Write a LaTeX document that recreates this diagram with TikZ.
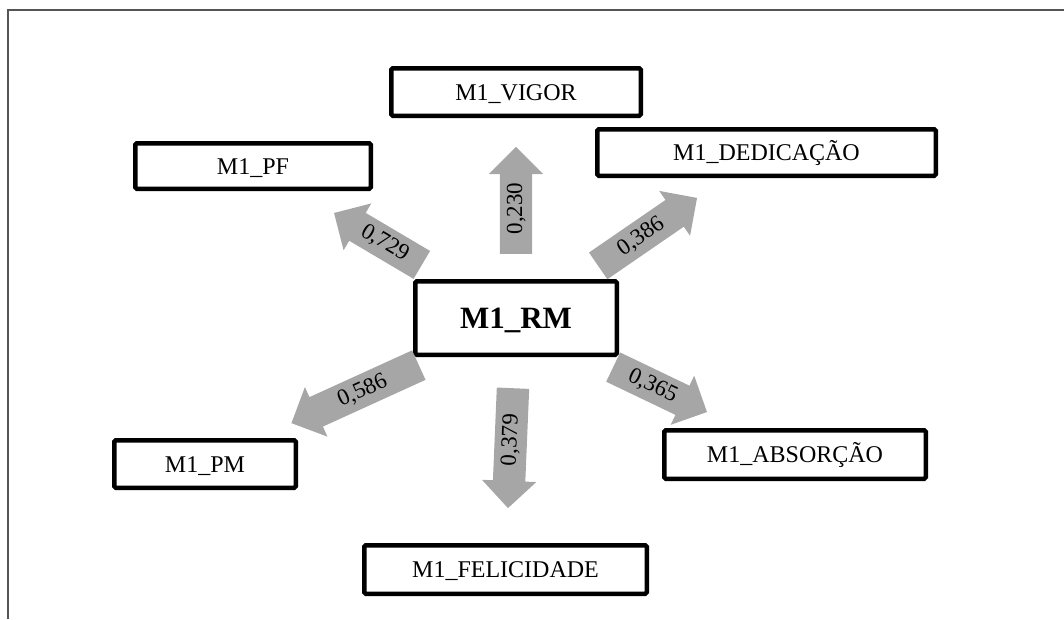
\documentclass[tikz,border=0pt]{standalone}
\usepackage{fontspec}
\setmainfont{Liberation Serif}
\usetikzlibrary{shapes.arrows}
\definecolor{arrowgray}{RGB}{166,166,166}
\definecolor{framegray}{RGB}{85,85,85}

\begin{document}
\begin{tikzpicture}[
  x=1pt, y=-1pt,
  box/.style={draw, line width=4.5pt, rounded corners=1.5pt, align=center,
              font=\fontsize{24}{28}\selectfont, text height=16pt, text depth=0pt},
  flow/.style={single arrow, fill=arrowgray, draw=none, anchor=tail,
               single arrow head extend=11pt, inner xsep=0pt, inner ysep=6.5pt,
               text height=15.5pt, text depth=3.5pt, font=\fontsize{23}{26}\selectfont}
]
\useasboundingbox (0,0) rectangle (1064,619);
\draw[framegray, line width=1.5pt] (8,619) -- (8,10) -- (1064,10);

% central construct and its dimensions
\node[box, minimum width=201.5pt, minimum height=73.5pt,
      font=\fontsize{31}{34}\selectfont\bfseries, text height=21pt] (rm) at (516,318) {M1\_RM};
\node[box, minimum width=249.5pt, minimum height=47.5pt] (vigor) at (516,92) {M1\_VIGOR};
\node[box, minimum width=235.5pt, minimum height=45.5pt] (pf) at (253,166) {M1\_PF};
\node[box, minimum width=338.5pt, minimum height=46.5pt] (ded) at (766.5,152.5) {M1\_DEDICAÇÃO};
\node[box, minimum width=181.5pt, minimum height=47.5pt] (pm) at (205,464) {M1\_PM};
\node[box, minimum width=261.5pt, minimum height=48.5pt] (abs) at (795,454.5) {M1\_ABSORÇÃO};
\node[box, minimum width=282.5pt, minimum height=48.5pt] (fel) at (505.5,569.5) {M1\_FELICIDADE};

% loadings
\node[flow, rotate=90, minimum height=107pt] (rmvigor) at (516,254) {0,230};
\node[flow, rotate=87.6, shape border rotate=180, minimum height=120pt] (rmfel) at (513,388) {0,379};
\node[flow, rotate=34.5, minimum height=120pt] (rmded) at (598,266) {0,386};
\node[flow, rotate=-25.6, minimum height=104pt] (rmabs) at (613,367) {0,365};
\node[flow, rotate=24.5, shape border rotate=180, minimum height=140pt] (rmpm) at (419,365) {0,586};
\node[flow, rotate=-30.6, shape border rotate=180, minimum height=102pt] (rmpf) at (422,265) {0,729};
\end{tikzpicture}
\end{document}
